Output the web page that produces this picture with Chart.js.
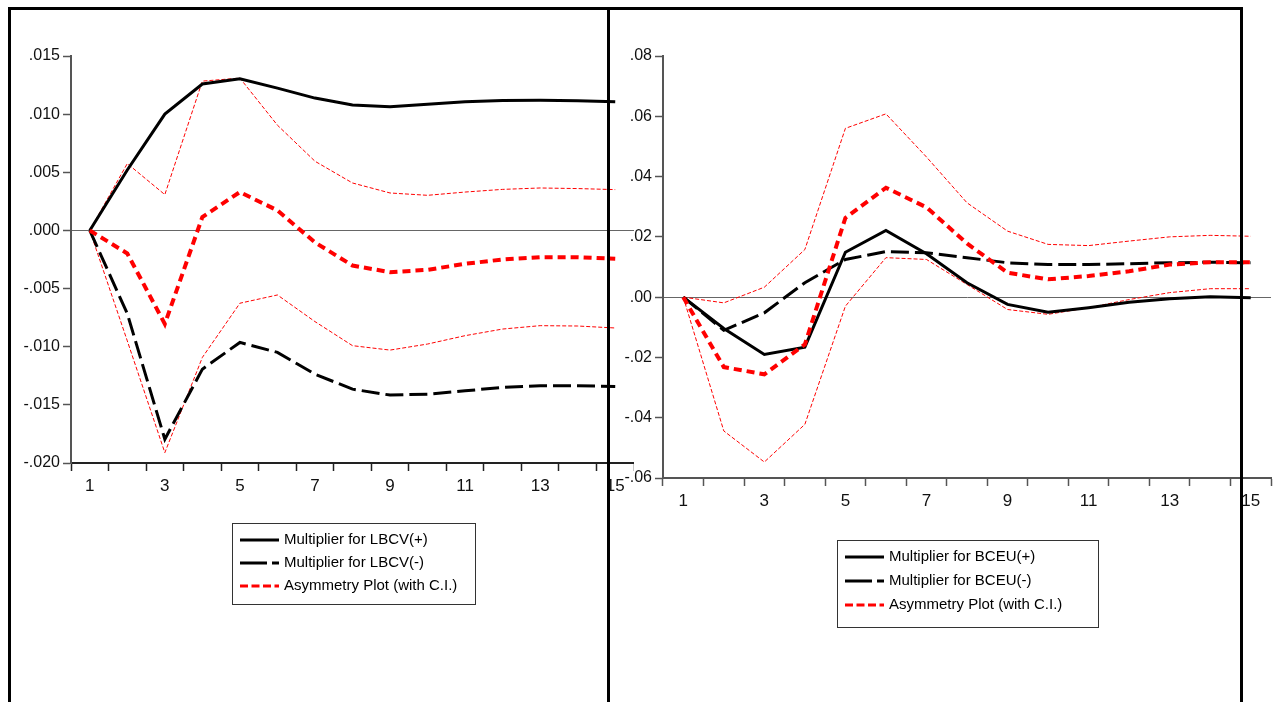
<!DOCTYPE html>
<html>
<head>
<meta charset="utf-8">
<title>Multipliers</title>
<script src="https://cdn.jsdelivr.net/npm/chart.js@4.4.1/dist/chart.umd.min.js"></script>
<style>
  html, body { margin: 0; padding: 0; background: #fff; }
  body { width: 1274px; height: 702px; position: relative; overflow: hidden; }
  .wrap { position: absolute; top: 0; height: 702px; }
  #wrapLeft { left: 0; width: 634px; }
  #wrapRight { left: 608px; width: 666px; }
  .frame { position: absolute; background: #000; z-index: 5; }
</style>
</head>
<body>
<div id="wrapLeft" class="wrap"><canvas id="chartLeft" width="634" height="702"></canvas></div>
<div id="wrapRight" class="wrap"><canvas id="chartRight" width="666" height="702"></canvas></div>
<div class="frame" style="left:8px;top:7px;width:1235px;height:3px"></div>
<div class="frame" style="left:8px;top:7px;width:3px;height:695px"></div>
<div class="frame" style="left:607px;top:7px;width:3px;height:695px"></div>
<div class="frame" style="left:1240px;top:7px;width:3px;height:695px"></div>

<script>
// horizon
const steps = ['1','2','3','4','5','6','7','8','9','10','11','12','13','14','15'];

// LBCV panel
const lbcvPos   = [0, 0.0052, 0.0100, 0.01259, 0.01305, 0.01224, 0.01138, 0.01078, 0.01063, 0.01086, 0.01106, 0.01118, 0.0112, 0.01115, 0.01106];
const lbcvNeg   = [0, -0.00716, -0.01796, -0.01193, -0.00963, -0.01049, -0.01236, -0.01365, -0.01416, -0.01408, -0.01379, -0.0135, -0.01336, -0.01336, -0.01342];
const lbcvAsym  = [0, -0.00198, -0.00804, 0.00115, 0.0033, 0.00172, -0.00103, -0.00302, -0.00359, -0.00339, -0.00287, -0.0025, -0.0023, -0.0023, -0.00244];
const lbcvUpper = [0, 0.00575, 0.00308, 0.01284, 0.0131, 0.00905, 0.00595, 0.00408, 0.00322, 0.00302, 0.0033, 0.00353, 0.00365, 0.0036, 0.00351];
const lbcvLower = [0, -0.0095, -0.01911, -0.01092, -0.00626, -0.00555, -0.00784, -0.00991, -0.01029, -0.00977, -0.00905, -0.00848, -0.00819, -0.00822, -0.00839];

// BCEU panel
const bceuPos   = [0, -0.0104, -0.0190, -0.0166, 0.0149, 0.0221, 0.0144, 0.00477, -0.0024, -0.0050, -0.0035, -0.0017, -0.0005, 0.0001, -0.0002];
const bceuNeg   = [0, -0.0110, -0.0052, 0.0048, 0.0125, 0.0151, 0.0147, 0.0131, 0.0114, 0.0108, 0.0108, 0.0111, 0.0114, 0.0116, 0.0114];
const bceuAsym  = [0, -0.0232, -0.0256, -0.0157, 0.0263, 0.0363, 0.0298, 0.0178, 0.0081, 0.0059, 0.0070, 0.0086, 0.0108, 0.0116, 0.0116];
const bceuUpper = [0, -0.0019, 0.0033, 0.0158, 0.0560, 0.0608, 0.0465, 0.0313, 0.0219, 0.0175, 0.0171, 0.0186, 0.0200, 0.0205, 0.0202];
const bceuLower = [0, -0.0444, -0.0547, -0.0422, -0.0030, 0.0131, 0.0125, 0.0042, -0.0041, -0.0057, -0.0035, -0.0008, 0.0015, 0.0028, 0.0028];

const FONT = '"Liberation Sans", Arial, sans-serif';

// legend drawn as a framed box under the plot
const boxLegend = {
    id: 'boxLegend',
    afterDraw(chart, args, opts) {
        const ctx = chart.ctx;
        ctx.save();
        ctx.strokeStyle = '#333';
        ctx.lineWidth = 1;
        ctx.strokeRect(opts.x + 0.5, opts.y + 0.5, opts.w, opts.h);
        ctx.font = '15px ' + FONT;
        ctx.textBaseline = 'middle';
        ctx.fillStyle = '#000';
        const items = chart.data.datasets.filter(d => d.legendText);
        items.sort((a, b) => a.legendPos - b.legendPos);
        items.forEach((d, i) => {
            const y = opts.firstRow + i * opts.rowStep;
            ctx.beginPath();
            ctx.setLineDash(d.legendDash || []);
            ctx.strokeStyle = d.borderColor;
            ctx.lineWidth = 3;
            ctx.moveTo(opts.sampleX, y);
            ctx.lineTo(opts.sampleX + 39, y);
            ctx.stroke();
            ctx.setLineDash([]);
            ctx.fillText(d.legendText, opts.sampleX + 44, y);
        });
        ctx.restore();
    }
};

function buildSets(pos, neg, asym, upper, lower, name) {
    // first in the list is drawn on top
    return [
        { data: asym, borderColor: '#ff0000', borderWidth: 4, borderDash: [8, 5],
          legendText: 'Asymmetry Plot (with C.I.)', legendPos: 3, legendDash: [8, 3.5] },
        { data: pos, borderColor: '#000', borderWidth: 3,
          legendText: 'Multiplier for ' + name + '(+)', legendPos: 1 },
        { data: neg, borderColor: '#000', borderWidth: 3, borderDash: [18, 6],
          legendText: 'Multiplier for ' + name + '(-)', legendPos: 2, legendDash: [27, 5, 7] },
        { data: upper, borderColor: '#ff0000', borderWidth: 1, borderDash: [4, 2] },
        { data: lower, borderColor: '#ff0000', borderWidth: 1, borderDash: [4, 2] }
    ];
}

function makeChart(id, sets, cfg) {
    const ctx = document.getElementById(id).getContext('2d');
    return new Chart(ctx, {
        type: 'line',
        data: { labels: steps, datasets: sets },
        options: {
            responsive: false,
            animation: false,
            layout: { padding: cfg.padding },
            elements: { point: { radius: 0 }, line: { tension: 0, borderCapStyle: 'butt' } },
            plugins: {
                legend: { display: false },
                tooltip: { enabled: false },
                boxLegend: cfg.legend
            },
            scales: {
                x: {
                    type: 'category',
                    offset: true,
                    afterFit: s => { s.height = 40; },
                    grid: { offset: true, drawOnChartArea: false, tickLength: 8, color: cfg.xAxis, tickWidth: 1.5 },
                    border: { display: true, color: cfg.xAxis, width: 2 },
                    ticks: {
                        autoSkip: false, maxRotation: 0, padding: 5, color: '#111',
                        font: { family: FONT, size: 17 },
                        callback: function(v, i) { return i % 2 === 0 ? this.getLabelForValue(v) : ''; }
                    }
                },
                y: {
                    min: cfg.min, max: cfg.max,
                    afterFit: s => { s.width = cfg.yWidth; },
                    grid: {
                        drawOnChartArea: true, tickLength: 8, tickColor: cfg.yAxis, tickWidth: 1.5, lineWidth: 1,
                        color: c => Math.abs(c.tick.value) < 1e-9 ? '#666' : 'rgba(0,0,0,0)'
                    },
                    border: { display: true, color: cfg.yAxis, width: 2 },
                    ticks: {
                        stepSize: cfg.step, padding: 3, color: '#111',
                        font: { family: FONT, size: 16 },
                        callback: v => {
                            if (Math.abs(v) < 1e-9) v = 0;
                            return v.toFixed(cfg.digits).replace('0.', '.');
                        }
                    }
                }
            }
        },
        plugins: [boxLegend]
    });
}

makeChart('chartLeft', buildSets(lbcvPos, lbcvNeg, lbcvAsym, lbcvUpper, lbcvLower, 'LBCV'), {
    min: -0.02, max: 0.015, step: 0.005, digits: 3, yWidth: 71, xAxis: '#222', yAxis: '#555',
    padding: { top: 56, left: 0, right: 0, bottom: 199 },
    legend: { x: 232, y: 523, w: 243, h: 81, firstRow: 540, rowStep: 23, sampleX: 240 }
});

makeChart('chartRight', buildSets(bceuPos, bceuNeg, bceuAsym, bceuUpper, bceuLower, 'BCEU'), {
    min: -0.06, max: 0.08, step: 0.02, digits: 2, yWidth: 55, xAxis: '#555', yAxis: '#555',
    padding: { top: 56, left: 0, right: 3, bottom: 184 },
    legend: { x: 229, y: 540, w: 261, h: 87, firstRow: 557, rowStep: 24, sampleX: 237 }
});
</script>
</body>
</html>
